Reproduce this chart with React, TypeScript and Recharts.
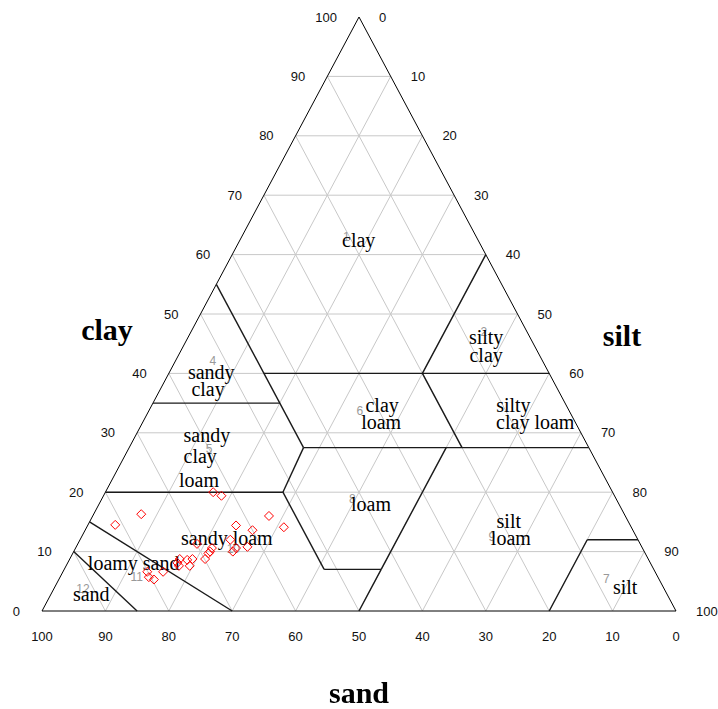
import { ScatterChart, Scatter, XAxis, YAxis, ReferenceLine } from "recharts";

// ternary soil texture triangle: every point is (clay %, sand %), silt = rest
const TICKS = [0, 10, 20, 30, 40, 50, 60, 70, 80, 90, 100];
const GRID = [10, 20, 30, 40, 50, 60, 70, 80, 90];

// samples
const sampleClay = [20, 19.4, 16.3, 14.5, 16, 14.1, 14.4, 13.6, 10.8, 12, 10.6, 10, 10.6, 10, 9.7, 8.75, 8.75, 11.3, 7.6, 8.6, 8.75, 8.1, 7.6, 6.6, 6.6, 5.7, 5.3];
const sampleSand = [63, 62, 76.2, 81.2, 56.2, 54.8, 62.2, 60, 62.2, 64.3, 64.1, 64.9, 67.9, 68.5, 68.9, 69.9, 71.9, 69.9, 72.9, 72.8, 73.9, 74.6, 74.6, 77.6, 80.1, 80.3, 79.7];

// USDA class boundaries, polylines of [clay, sand]
const BOUNDARIES: [number, number][][] = [
  [[55, 45], [27.5, 45], [20, 52], [7, 52], [7, 43], [0, 50]],
  [[35, 65], [35, 45]],
  [[20, 80], [20, 52]],
  [[40, 45], [40, 0]],
  [[60, 0], [40, 20], [27.5, 20]],
  [[27.5, 45], [27.5, 0]],
  [[27.5, 22.5], [7, 43]],
  [[12, 0], [12, 8], [0, 20]],
  [[15, 85], [0, 70]],
  [[10, 90], [0, 85]],
];
const EDGES: [number, number][] = [[0, 100], [100, 0], [0, 0], [0, 100]];

// class names, one entry per text line: [text, clay, sand]
const CLASS_LABELS: [string, number, number][] = [
  ["clay", 62.5, 18.8],
  ["silty", 46.1, 6.9],
  ["clay", 43.1, 8.4],
  ["sandy", 40.2, 53.2],
  ["clay", 37.4, 55.1],
  ["clay", 34.7, 29.0],
  ["loam", 31.8, 30.6],
  ["silty", 34.7, 8.3],
  ["clay loam", 31.8, 6.3],
  ["sandy", 29.6, 59.2],
  ["clay", 26.1, 62.0],
  ["loam", 22.05, 64.2],
  ["loam", 18.0, 39.1],
  ["silt", 15.15, 18.8],
  ["loam", 12.3, 19.9],
  ["sandy loam", 12.3, 64.7],
  ["loamy sand", 8.08, 81.5],
  ["sand", 2.86, 90.8],
  ["silt", 4.04, 6.0],
];

// class numbers in grey: [number, clay, sand]
const CLASS_NUMBERS: [string, number, number][] = [
  ["1", 63.0, 20.5],
  ["2", 47.0, 6.8],
  ["4", 42.1, 52.0],
  ["5", 27.3, 60.0],
  ["6", 33.7, 33.0],
  ["7", 5.39, 8.3],
  ["8", 18.9, 41.6],
  ["9", 12.46, 22.8],
  ["10", 10.44, 64.6],
  ["11", 5.72, 82.2],
  ["12", 3.7, 91.7],
];

const tern = (clay: number, sand: number) => ({ x: 100 - sand - clay / 2, y: clay });

const segments: { x: number; y: number }[][] = [];
GRID.forEach((v) => {
  segments.push([tern(v, 100 - v), tern(v, 0)]); // clay
  segments.push([tern(100 - v, v), tern(0, v)]); // sand
  segments.push([tern(100 - v, 0), tern(0, 100 - v)]); // silt
});

const toSegs = (line: [number, number][]) =>
  line.slice(1).map((p, i) => [tern(line[i][0], line[i][1]), tern(p[0], p[1])]);

const points = sampleClay.map((c, i) => tern(c, sampleSand[i]));
const leftTicks = TICKS.map((v) => ({ ...tern(v, 100 - v), label: String(v) }));
const rightTicks = TICKS.map((v) => ({ ...tern(100 - v, 0), label: String(v) }));
const bottomTicks = TICKS.map((v) => ({ ...tern(0, v), label: String(v) }));
const classLabels = CLASS_LABELS.map(([t, c, s]) => ({ ...tern(c, s), label: t }));
const classNumbers = CLASS_NUMBERS.map(([t, c, s]) => ({ ...tern(c, s), label: t }));

const tickText = (anchor: "start" | "middle" | "end", dx: number, dy: number) => (p: any) => (
  <text
    x={p.cx + dx}
    y={p.cy + dy}
    textAnchor={anchor}
    dominantBaseline="central"
    fontFamily="'Liberation Sans', Arial, sans-serif"
    fontSize={13}
    fill="#111"
  >
    {p.payload.label}
  </text>
);

const Diamond = (p: any) => {
  const r = 4.5;
  return (
    <polygon
      points={`${p.cx},${p.cy - r} ${p.cx + r},${p.cy} ${p.cx},${p.cy + r} ${p.cx - r},${p.cy}`}
      fill="none"
      stroke="#ff0000"
      strokeWidth={1}
    />
  );
};

const titleStyle: React.CSSProperties = {
  position: "absolute",
  transform: "translate(-50%, -50%)",
  fontFamily: "'Liberation Serif', 'Times New Roman', serif",
  fontWeight: "bold",
  fontSize: 30,
  color: "#000",
  whiteSpace: "nowrap",
};

export default function App() {
  return (
    <div style={{ position: "fixed", left: 0, top: 0, width: 718, height: 709, background: "#fff" }}>
      <ScatterChart width={718} height={709} margin={{ top: 17, right: 42, bottom: 98, left: 42 }}>
        <XAxis type="number" dataKey="x" domain={[0, 100]} hide />
        <YAxis type="number" dataKey="y" domain={[0, 100]} hide />
        {segments.map((s, i) => (
          <ReferenceLine key={`g${i}`} segment={s} stroke="#c8c8c8" strokeWidth={1} ifOverflow="visible" />
        ))}
        {toSegs(EDGES).map((s, i) => (
          <ReferenceLine key={`e${i}`} segment={s} stroke="#000" strokeWidth={1} ifOverflow="visible" />
        ))}
        {BOUNDARIES.flatMap(toSegs).map((s, i) => (
          <ReferenceLine key={`b${i}`} segment={s} stroke="#1a1a1a" strokeWidth={1.4} ifOverflow="visible" />
        ))}
        <Scatter data={leftTicks} isAnimationActive={false} shape={tickText("end", -22, 0)} />
        <Scatter data={rightTicks} isAnimationActive={false} shape={tickText("start", 20, 0)} />
        <Scatter data={bottomTicks} isAnimationActive={false} shape={tickText("middle", 0, 25)} />
        <Scatter
          data={classNumbers}
          isAnimationActive={false}
          shape={(p: any) => (
            <text x={p.cx} y={p.cy} textAnchor="middle" dominantBaseline="central" fontFamily="'Liberation Sans', Arial, sans-serif" fontSize={12} fill="#999">
              {p.payload.label}
            </text>
          )}
        />
        <Scatter
          data={classLabels}
          isAnimationActive={false}
          shape={(p: any) => (
            <text x={p.cx} y={p.cy} textAnchor="middle" dominantBaseline="central" fontFamily="'Liberation Serif', 'Times New Roman', serif" fontSize={20} fill="#000">
              {p.payload.label}
            </text>
          )}
        />
        <Scatter data={points} isAnimationActive={false} shape={Diamond} />
      </ScatterChart>
      <div style={{ ...titleStyle, left: 107, top: 330 }}>clay</div>
      <div style={{ ...titleStyle, left: 622, top: 336 }}>silt</div>
      <div style={{ ...titleStyle, left: 359, top: 693 }}>sand</div>
    </div>
  );
}
